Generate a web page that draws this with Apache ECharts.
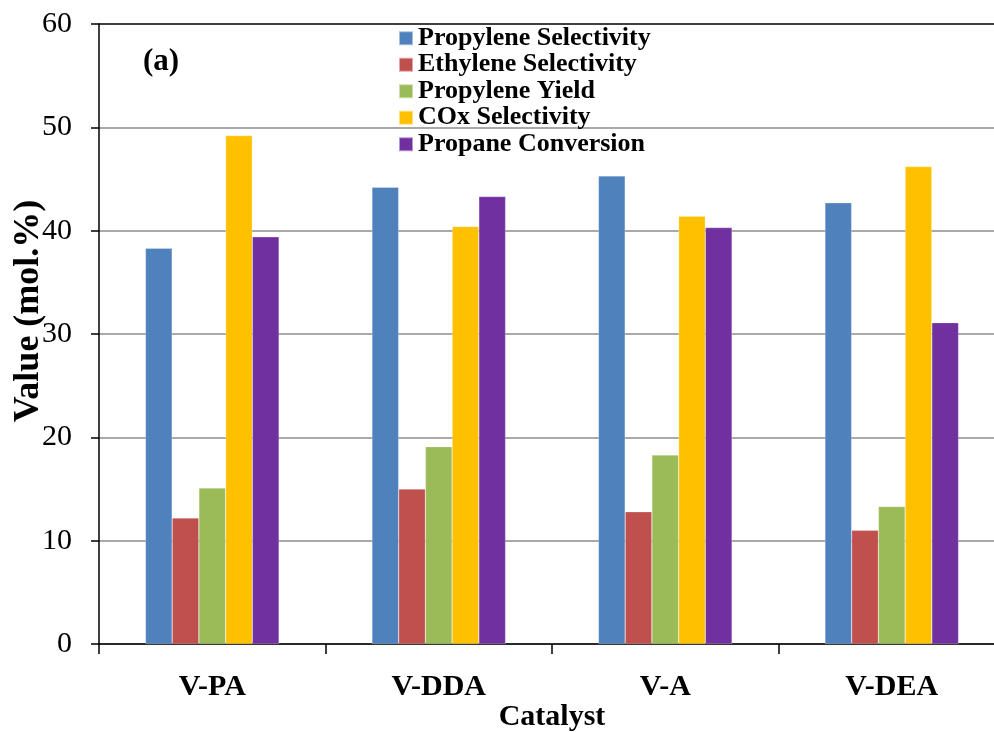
<!DOCTYPE html>
<html>
<head>
<meta charset="utf-8">
<script src="https://cdn.jsdelivr.net/npm/echarts@6/dist/echarts.min.js"></script>
<style>html,body{margin:0;padding:0;background:#fff}#c{width:994px;height:732px}</style>
</head>
<body>
<div id="c"></div>
<script>
const categories = ['V-PA', 'V-DDA', 'V-A', 'V-DEA'];
const seriesNames = ['Propylene Selectivity', 'Ethylene Selectivity', 'Propylene Yield', 'COx Selectivity', 'Propane Conversion'];
const propyleneSelectivity = [38.3, 44.2, 45.3, 42.7];
const ethyleneSelectivity = [12.2, 15.0, 12.8, 11.0];
const propyleneYield = [15.1, 19.1, 18.3, 13.3];
const coxSelectivity = [49.2, 40.4, 41.4, 46.2];
const propaneConversion = [39.4, 43.3, 40.3, 31.1];
const yTicks = [0, 10, 20, 30, 40, 50, 60];

const colors = ['#4F81BD', '#C0504D', '#9BBB59', '#FFC000', '#7030A0'];
const values = [propyleneSelectivity, ethyleneSelectivity, propyleneYield, coxSelectivity, propaneConversion];
const font = '"Liberation Serif", "Times New Roman", serif';

const chart = echarts.init(document.getElementById('c'));
chart.setOption({
  animation: false,
  color: colors,
  grid: { left: 99, top: 24, right: -11, bottom: 88, containLabel: false, outerBoundsMode: 'none' },
  legend: {
    orient: 'vertical', left: 398, top: 25, padding: 0, itemGap: 0,
    itemWidth: 14, itemHeight: 14, icon: 'rect',
    textStyle: { fontFamily: font, fontWeight: 'bold', fontSize: 26, lineHeight: 26.5, color: '#000' },
    data: seriesNames
  },
  graphic: [{
    type: 'text', left: 143, top: 46,
    style: { text: '(a)', font: 'bold 31px ' + font, fill: '#000' }
  }],
  xAxis: {
    type: 'category', data: categories,
    name: 'Catalyst', nameLocation: 'middle', nameGap: 58, nameMoveOverlap: false,
    nameTextStyle: { fontFamily: font, fontWeight: 'bold', fontSize: 30, color: '#000' },
    axisLine: { lineStyle: { color: '#000', width: 1.5 } },
    axisTick: { show: true, length: 10, lineStyle: { color: '#000', width: 1.5 } },
    axisLabel: { margin: 28, fontFamily: font, fontWeight: 'bold', fontSize: 30, color: '#000' }
  },
  yAxis: {
    type: 'value', min: 0, max: 60, interval: 10,
    name: 'Value (mol.%)', nameLocation: 'middle', nameGap: 52, nameMoveOverlap: false,
    nameTextStyle: { fontFamily: font, fontWeight: 'bold', fontSize: 36, color: '#000', padding: [0, 0, 0, 46] },
    axisLine: { show: true, lineStyle: { color: '#000', width: 1.5 } },
    axisTick: { show: true, length: 8, lineStyle: { color: '#000', width: 1.5 } },
    axisLabel: {
      margin: 27, fontFamily: font, fontSize: 30, color: '#000',
      formatter: v => yTicks.includes(v) ? String(v) : ''
    },
    splitLine: { show: true, lineStyle: { color: ['#8c8c8c', '#8c8c8c', '#8c8c8c', '#8c8c8c', '#8c8c8c', '#8c8c8c', '#000'], width: 1.5 } }
  },
  series: seriesNames.map((n, i) => ({
    name: n, type: 'bar', data: values[i],
    barGap: '0%', barCategoryGap: '41%',
    itemStyle: { color: colors[i], borderColor: 'rgba(255,255,255,0.5)', borderWidth: 0.5 }
  }))
});
</script>
</body>
</html>
